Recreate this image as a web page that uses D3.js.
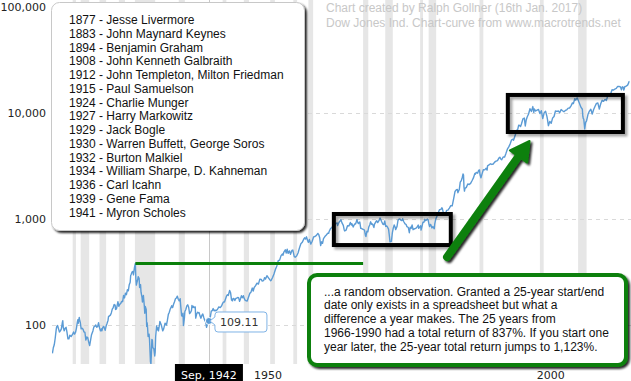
<!DOCTYPE html>
<html><head><meta charset="utf-8">
<script src="https://cdn.jsdelivr.net/npm/d3@7"></script>
<style>html,body{margin:0;padding:0;background:#fff;} svg{display:block}</style>
</head><body><svg id="c" width="631" height="381"></svg>
<script>
// ---- DATA ----
const dowMonthly = [
["1915-01",54],["1915-03",61],["1915-05",65],["1915-07",75],["1915-09",90],["1915-10",96],["1915-12",99],
["1916-02",92],["1916-04",86],["1916-06",88],["1916-08",92],["1916-10",105],["1916-11",110],["1916-12",95],
["1917-02",88],["1917-04",93],["1917-06",95],["1917-08",85],["1917-10",74],["1917-12",74],
["1918-02",80],["1918-05",78],["1918-08",82],["1918-10",86],["1918-12",82],
["1919-02",85],["1919-04",93],["1919-06",107],["1919-07",112],["1919-08",104],["1919-10",118],["1919-11",110],["1919-12",107],
["1920-02",92],["1920-04",93],["1920-06",91],["1920-08",86],["1920-10",85],["1920-12",72],
["1921-02",77],["1921-04",76],["1921-06",69],["1921-08",64],["1921-10",72],["1921-12",81],
["1922-03",88],["1922-05",96],["1922-07",97],["1922-09",100],["1922-11",95],
["1923-01",97],["1923-03",105],["1923-05",94],["1923-07",88],["1923-09",92],["1923-10",88],["1923-12",95],
["1924-02",97],["1924-05",89],["1924-07",98],["1924-09",104],["1924-11",111],["1924-12",120],
["1925-02",122],["1925-04",124],["1925-06",130],["1925-08",141],["1925-10",146],["1925-12",156],
["1926-02",154],["1926-03",140],["1926-05",142],["1926-08",166],["1926-10",150],["1926-12",157],
["1927-02",160],["1927-04",167],["1927-06",166],["1927-08",190],["1927-10",180],["1927-12",200],
["1928-02",193],["1928-04",215],["1928-06",210],["1928-08",240],["1928-10",253],["1928-11",293],["1928-12",300],
["1929-02",317],["1929-04",320],["1929-05",297],["1929-07",347],["1929-09",381],["1929-10",273],["1929-11",238],["1929-12",248],
["1930-02",270],["1930-03",286],["1930-04",279],["1930-05",275],["1930-06",226],["1930-08",240],["1930-09",204],["1930-11",183],["1930-12",165],
["1931-02",190],["1931-04",151],["1931-05",129],["1931-06",150],["1931-08",140],["1931-09",97],["1931-10",105],["1931-11",93],["1931-12",78],
["1932-02",82],["1932-03",73],["1932-05",45],["1932-06",43],["1932-07",54],["1932-08",73],["1932-09",72],["1932-10",61],["1932-12",60],
["1933-02",51],["1933-03",55],["1933-04",77],["1933-06",98],["1933-07",90],["1933-09",94],["1933-10",88],["1933-12",100],
["1934-01",108],["1934-04",100],["1934-07",88],["1934-09",92],["1934-12",104],
["1935-03",100],["1935-05",111],["1935-07",126],["1935-09",132],["1935-11",142],["1935-12",144],
["1936-02",152],["1936-04",146],["1936-06",157],["1936-08",166],["1936-10",177],["1936-12",180],
["1937-02",187],["1937-04",175],["1937-06",169],["1937-08",177],["1937-09",154],["1937-10",138],["1937-11",123],["1937-12",121],
["1938-02",129],["1938-03",99],["1938-05",116],["1938-06",134],["1938-08",140],["1938-10",151],["1938-12",155],
["1939-02",147],["1939-04",128],["1939-06",131],["1939-08",137],["1939-09",153],["1939-11",146],["1939-12",150],
["1940-02",146],["1940-04",148],["1940-05",116],["1940-07",127],["1940-09",132],["1940-11",130],["1940-12",131],
["1941-02",122],["1941-04",116],["1941-06",123],["1941-08",127],["1941-10",118],["1941-12",111],
["1942-02",107],["1942-04",95],["1942-06",103],["1942-08",107],["1942-09",109.11],["1942-10",114],["1942-12",119],
["1943-02",136],["1943-04",136],["1943-06",143],["1943-08",136],["1943-10",138],["1943-12",136],
["1944-03",140],["1944-06",148],["1944-09",146],["1944-12",152],
["1945-02",160],["1945-04",165],["1945-06",165],["1945-08",175],["1945-10",186],["1945-12",193],
["1946-02",190],["1946-05",212],["1946-07",201],["1946-09",172],["1946-11",169],["1946-12",177],
["1947-02",178],["1947-04",170],["1947-06",178],["1947-08",179],["1947-10",182],["1947-12",181],
["1948-02",167],["1948-04",177],["1948-06",189],["1948-08",181],["1948-10",189],["1948-12",177],
["1949-02",171],["1949-06",168],["1949-08",178],["1949-10",189],["1949-12",200],
["1950-02",203],["1950-05",223],["1950-07",209],["1950-09",226],["1950-12",235],
["1951-03",248],["1951-06",243],["1951-09",271],["1951-12",269],
["1952-02",260],["1952-05",262],["1952-07",280],["1952-09",271],["1952-12",292],
["1953-03",280],["1953-06",268],["1953-08",262],["1953-09",264],["1953-12",281],
["1954-03",303],["1954-06",334],["1954-09",361],["1954-12",404],
["1955-03",409],["1955-06",451],["1955-09",467],["1955-10",455],["1955-12",488],
["1956-03",512],["1956-05",478],["1956-07",518],["1956-09",475],["1956-12",500],
["1957-02",464],["1957-05",505],["1957-07",509],["1957-10",441],["1957-12",436],
["1958-03",447],["1958-06",478],["1958-09",532],["1958-12",584],
["1959-03",602],["1959-06",644],["1959-08",664],["1959-10",647],["1959-12",679],
["1960-02",630],["1960-04",602],["1960-06",641],["1960-09",580],["1960-12",616],
["1961-03",677],["1961-06",684],["1961-09",701],["1961-12",731],
["1962-02",711],["1962-04",665],["1962-06",561],["1962-08",609],["1962-10",590],["1962-12",652],
["1963-03",683],["1963-06",707],["1963-09",733],["1963-11",732],["1963-12",763],
["1964-03",813],["1964-06",832],["1964-09",875],["1964-12",874],
["1965-02",903],["1965-05",918],["1965-06",868],["1965-09",931],["1965-12",969],
["1966-01",983],["1966-03",924],["1966-06",870],["1966-08",788],["1966-09",772],["1966-12",786],
["1967-03",865],["1967-06",860],["1967-09",927],["1967-11",876],["1967-12",905],
["1968-03",840],["1968-06",897],["1968-08",896],["1968-11",985],["1968-12",944],
["1969-02",905],["1969-05",938],["1969-07",815],["1969-09",813],["1969-12",800],
["1970-03",785],["1970-05",700],["1970-06",683],["1970-08",765],["1970-10",756],["1970-12",839],
["1971-02",879],["1971-04",941],["1971-06",891],["1971-08",898],["1971-11",831],["1971-12",890],
["1972-03",940],["1972-05",961],["1972-07",925],["1972-09",953],["1972-12",1020],
["1973-01",1000],["1973-03",951],["1973-06",891],["1973-08",888],["1973-10",957],["1973-12",851],
["1974-02",860],["1974-04",837],["1974-06",802],["1974-08",679],["1974-09",608],["1974-12",616],
["1975-02",739],["1975-04",821],["1975-06",879],["1975-08",835],["1975-09",794],["1975-12",852],
["1976-02",973],["1976-04",997],["1976-06",1003],["1976-08",974],["1976-10",965],["1976-12",1005],
["1977-02",947],["1977-05",899],["1977-07",891],["1977-09",847],["1977-12",831],
["1978-02",742],["1978-04",837],["1978-06",819],["1978-08",877],["1978-10",793],["1978-12",805],
["1979-02",809],["1979-05",823],["1979-07",846],["1979-09",878],["1979-10",816],["1979-12",839],
["1980-02",863],["1980-03",786],["1980-05",851],["1980-07",935],["1980-09",932],["1980-11",993],["1980-12",964],
["1981-02",974],["1981-04",998],["1981-06",977],["1981-08",882],["1981-09",850],["1981-11",889],["1981-12",875],
["1982-02",824],["1982-04",848],["1982-07",809],["1982-08",901],["1982-10",992],["1982-12",1047],
["1983-03",1130],["1983-06",1222],["1983-09",1233],["1983-11",1276],["1983-12",1259],
["1984-02",1155],["1984-05",1105],["1984-07",1115],["1984-09",1207],["1984-12",1212],
["1985-03",1267],["1985-06",1336],["1985-09",1329],["1985-12",1547],
["1986-03",1819],["1986-06",1893],["1986-08",1898],["1986-09",1768],["1986-12",1896],
["1987-02",2224],["1987-04",2286],["1987-06",2419],["1987-08",2663],["1987-09",2596],["1987-10",1994],["1987-11",1834],["1987-12",1939],
["1988-03",1988],["1988-06",2142],["1988-09",2113],["1988-12",2169],
["1989-03",2294],["1989-06",2440],["1989-09",2693],["1989-10",2645],["1989-12",2753],
["1990-03",2707],["1990-05",2877],["1990-07",2905],["1990-08",2614],["1990-10",2442],["1990-12",2634],
["1991-03",2914],["1991-06",2907],["1991-09",3017],["1991-11",2895],["1991-12",3169],
["1992-03",3236],["1992-06",3319],["1992-09",3272],["1992-12",3301],
["1993-03",3436],["1993-06",3516],["1993-09",3555],["1993-12",3754],
["1994-02",3832],["1994-04",3682],["1994-06",3625],["1994-09",3843],["1994-12",3834],
["1995-03",4158],["1995-06",4556],["1995-09",4789],["1995-12",5117],
["1996-03",5587],["1996-06",5655],["1996-07",5529],["1996-09",5882],["1996-12",6448],
["1997-02",6877],["1997-04",7009],["1997-06",7673],["1997-08",7622],["1997-10",7442],["1997-12",7908],
["1998-03",8800],["1998-06",8952],["1998-08",7539],["1998-10",8592],["1998-12",9181],
["1999-03",9786],["1999-06",10971],["1999-09",10337],["1999-12",11497],
["2000-02",10128],["2000-03",10922],["2000-06",10448],["2000-09",10651],["2000-12",10788],
["2001-03",9879],["2001-06",10502],["2001-09",8848],["2001-12",10022],
["2002-03",10404],["2002-06",9243],["2002-07",8737],["2002-09",7592],["2002-12",8342],
["2003-03",7992],["2003-06",8985],["2003-09",9275],["2003-12",10454],
["2004-03",10358],["2004-06",10435],["2004-09",10080],["2004-12",10783],
["2005-03",10504],["2005-06",10275],["2005-09",10569],["2005-12",10718],
["2006-03",11109],["2006-06",11150],["2006-09",11679],["2006-12",12463],
["2007-02",12269],["2007-05",13628],["2007-07",13212],["2007-10",13930],["2007-12",13265],
["2008-03",12263],["2008-06",11350],["2008-09",10851],["2008-10",9325],["2008-11",8829],["2008-12",8776],
["2009-02",7063],["2009-04",8168],["2009-06",8447],["2009-09",9712],["2009-12",10428],
["2010-03",10857],["2010-06",9774],["2010-09",10788],["2010-12",11578],
["2011-03",12320],["2011-06",12414],["2011-09",10913],["2011-12",12218],
["2012-03",13212],["2012-06",12880],["2012-09",13437],["2012-12",13104],
["2013-03",14579],["2013-06",14910],["2013-09",15130],["2013-12",16577],
["2014-03",16458],["2014-06",16827],["2014-09",17043],["2014-12",17823],
["2015-03",17776],["2015-06",17620],["2015-08",16528],["2015-10",17664],["2015-12",17425],
["2016-01",16466],["2016-03",17685],["2016-06",17930],["2016-09",18308],["2016-11",19124],["2016-12",19763],
["2017-01",19864]
];
const recessions = [
["1918-08","1919-03"],["1920-01","1921-07"],["1923-05","1924-07"],["1926-10","1927-11"],
["1929-08","1933-03"],["1937-05","1938-06"],["1945-02","1945-10"],["1948-11","1949-10"],
["1953-07","1954-05"],["1957-08","1958-04"],["1960-04","1961-02"],["1969-12","1970-11"],
["1973-11","1975-03"],["1980-01","1980-07"],["1981-07","1982-11"],["1990-07","1991-03"],
["2001-03","2001-11"],["2007-12","2009-06"]
];
const yTicks = [100, 1000, 10000, 100000];
const xTicks = ["1950", "2000"];
const legendLines = [
"1877 - Jesse Livermore","1883 - John Maynard Keynes","1894 - Benjamin Graham",
"1908 - John Kenneth Galbraith","1912 - John Templeton, Milton Friedman","1915 - Paul Samuelson",
"1924 - Charlie Munger","1927 - Harry Markowitz","1929 - Jack Bogle",
"1930 - Warren Buffett, George Soros","1932 - Burton Malkiel","1934 - William Sharpe, D. Kahneman",
"1936 - Carl Icahn","1939 - Gene Fama","1941 - Myron Scholes"
];
const creditLines = ["Chart created by Ralph Gollner (16th Jan. 2017)","Dow Jones Ind. Chart-curve from www.macrotrends.net"];
const calloutLines = [
"...a random observation. Granted a 25-year start/end",
"date only exists in a spreadsheet but what a",
"difference a year makes. The 25 years from",
"1966-1990 had a total return of 837%. If you start one",
"year later, the 25-year total return jumps to 1,123%."
];
const hoverPoint = ["1942-09", 109.11];
const hoverLabel = "Sep, 1942";
const peakLine = [["1929-09",381],["1969-12",381]];
const flatBoxes = [[["1964-10",1115],["1985-06",568]], [["1995-07",14800],["2015-11",6620]]];
const arrowEnds = [["1984-10",438],["1999-05",5450]];

// ---- LAYOUT ----
const W=631,H=381;
const plot={left:52,right:631,top:0,bottom:364};
const parse=d3.timeParse("%Y-%m");
const x=d3.scaleTime().domain([parse("1915-01"),parse("2017-01")]).range([52.4,629.5]);
const y=d3.scaleLog().domain([100,100000]).range([325,7]);
const lineColor="#5b9bd5";
const sansA='"Liberation Sans", Arial, sans-serif';
const sansV='"DejaVu Sans", Verdana, sans-serif';

const svg=d3.select("#c");
const defs=svg.append("defs");
function shadow(id,op,sd,dx){
  const f=defs.append("filter").attr("id",id).attr("x","-20%").attr("y","-20%").attr("width","140%").attr("height","140%");
  f.append("feDropShadow").attr("dx",dx).attr("dy",dx).attr("stdDeviation",sd).attr("flood-color","#000").attr("flood-opacity",op);
}
shadow("shDark",0.85,1.3,2);
shadow("shGray",0.35,1.2,2.5);
defs.append("clipPath").attr("id","clip").append("rect")
  .attr("x",plot.left).attr("y",plot.top).attr("width",plot.right-plot.left).attr("height",plot.bottom-plot.top);

// bands
svg.append("g").selectAll("rect").data(recessions).join("rect")
  .attr("x",d=>x(parse(d[0]))).attr("width",d=>x(parse(d[1]))-x(parse(d[0])))
  .attr("y",plot.top).attr("height",plot.bottom-plot.top).attr("fill","#e6e6e6");

// grid
svg.append("g").selectAll("line").data(yTicks.filter(t=>t<100000)).join("line")
  .attr("x1",plot.left).attr("x2",plot.right).attr("y1",d=>Math.round(y(d))+0.5).attr("y2",d=>Math.round(y(d))+0.5)
  .attr("stroke","#d9d9d9").attr("stroke-dasharray","4,4");

// y labels
svg.append("g").selectAll("text").data(yTicks).join("text")
  .attr("x",46).attr("y",d=>y(d)).attr("dy","0.36em").attr("text-anchor","end")
  .attr("font-family",sansV).attr("font-size",11).attr("fill","#222").text(d=>d3.format(",")(d));

// x labels
svg.append("g").selectAll("text").data(xTicks).join("text")
  .attr("x",d=>x(parse(d+"-01"))+3.5).attr("y",378.5)
  .attr("font-family",sansV).attr("font-size",11).attr("fill","#222").text(d=>d);

// crosshair
const hx=x(parse(hoverPoint[0])), hy=y(hoverPoint[1]);
svg.append("line").attr("x1",Math.round(hx)+0.5).attr("x2",Math.round(hx)+0.5).attr("y1",plot.top).attr("y2",plot.bottom)
  .attr("stroke","#c8c8c8");

// line
svg.append("path").datum(dowMonthly).attr("clip-path","url(#clip)")
  .attr("d",d3.line().x(d=>x(parse(d[0]))).y(d=>y(d[1])))
  .attr("fill","none").attr("stroke",lineColor).attr("stroke-width",1.4).attr("stroke-linejoin","round");

// marker
svg.append("circle").attr("cx",hx).attr("cy",hy).attr("r",3.5).attr("fill",lineColor).attr("stroke","#fff").attr("stroke-width",1);

// tooltip
{
  const l=hx+6,t=hy-9,r=l+52,b=t+20,c=3;
  const p=`M${l+c},${t}H${r-c}Q${r},${t} ${r},${t+c}V${b-c}Q${r},${b} ${r-c},${b}H${l+c}Q${l},${b} ${l},${b-c}V${hy+4}L${hx+1},${hy}L${l},${hy-4}V${t+c}Q${l},${t} ${l+c},${t}Z`;
  svg.append("path").attr("d",p).attr("fill","#fff").attr("stroke","#7fb3e6").attr("stroke-width",1);
  svg.append("text").attr("x",l+5).attr("y",hy+5.5).attr("font-family",sansV).attr("font-size",11).attr("fill","#333").text(hoverPoint[1].toFixed(2));
}

// x hover label
svg.append("rect").attr("x",hx-34).attr("y",364).attr("width",68).attr("height",20).attr("fill","#000");
svg.append("text").attr("x",hx).attr("y",378.5).attr("text-anchor","middle").attr("font-family",sansV).attr("font-size",11).attr("fill","#fff").text(hoverLabel);

// green peak line
svg.append("line").attr("x1",x(parse(peakLine[0][0]))).attr("x2",x(parse(peakLine[1][0])))
  .attr("y1",y(peakLine[0][1])).attr("y2",y(peakLine[1][1])).attr("stroke","#0a800a").attr("stroke-width",3);

// black boxes
svg.append("g").selectAll("rect").data(flatBoxes).join("rect")
  .attr("x",d=>x(parse(d[0][0]))).attr("y",d=>y(d[0][1]))
  .attr("width",d=>x(parse(d[1][0]))-x(parse(d[0][0]))).attr("height",d=>y(d[1][1])-y(d[0][1]))
  .attr("fill","none").attr("stroke","#000").attr("stroke-width",4).attr("filter","url(#shGray)");

// arrow
{
  const x0=x(parse(arrowEnds[0][0])),y0=y(arrowEnds[0][1]),x1=x(parse(arrowEnds[1][0])),y1=y(arrowEnds[1][1]);
  const dx=x1-x0,dy=y1-y0,len=Math.hypot(dx,dy),ux=dx/len,uy=dy/len,px=-uy,py=ux;
  const hl=19,hw=10.5;
  const bx=x1-ux*hl,by=y1-uy*hl;
  const g=svg.append("g").attr("filter","url(#shDark)");
  g.append("line").attr("x1",x0).attr("y1",y0).attr("x2",bx+ux*2).attr("y2",by+uy*2)
    .attr("stroke","#0a800a").attr("stroke-width",8).attr("stroke-linecap","round");
  g.append("path").attr("d",`M${x1},${y1}L${bx+px*hw},${by+py*hw}L${bx-px*hw},${by-py*hw}Z`)
    .attr("fill","#0a800a").attr("stroke","#0a800a").attr("stroke-width",2).attr("stroke-linejoin","round");
}

// credits
svg.append("g").selectAll("text").data(creditLines).join("text")
  .attr("x",326).attr("y",(d,i)=>11.5+i*15).attr("font-family",sansA).attr("font-size",12).attr("fill","#c8c8c8").text(d=>d);

// legend box
svg.append("rect").attr("x",51.5).attr("y",2.5).attr("width",253).attr("height",228).attr("rx",8)
  .attr("fill","#fff").attr("stroke","#c8c8c8").attr("filter","url(#shDark)");
svg.append("g").selectAll("text").data(legendLines).join("text")
  .attr("x",69).attr("y",(d,i)=>24.3+i*13.73).attr("font-family",sansA).attr("font-size",12).attr("fill","#111").text(d=>d);

// callout
svg.append("rect").attr("x",309).attr("y",275).attr("width",317).attr("height",90).attr("rx",8)
  .attr("fill","#fff").attr("stroke","#0a800a").attr("stroke-width",4).attr("filter","url(#shDark)");
svg.append("g").selectAll("text").data(calloutLines).join("text")
  .attr("x",324).attr("y",(d,i)=>295.5+i*13.75).attr("font-family",sansA).attr("font-size",12).attr("fill","#111").text(d=>d);
</script></body></html>
